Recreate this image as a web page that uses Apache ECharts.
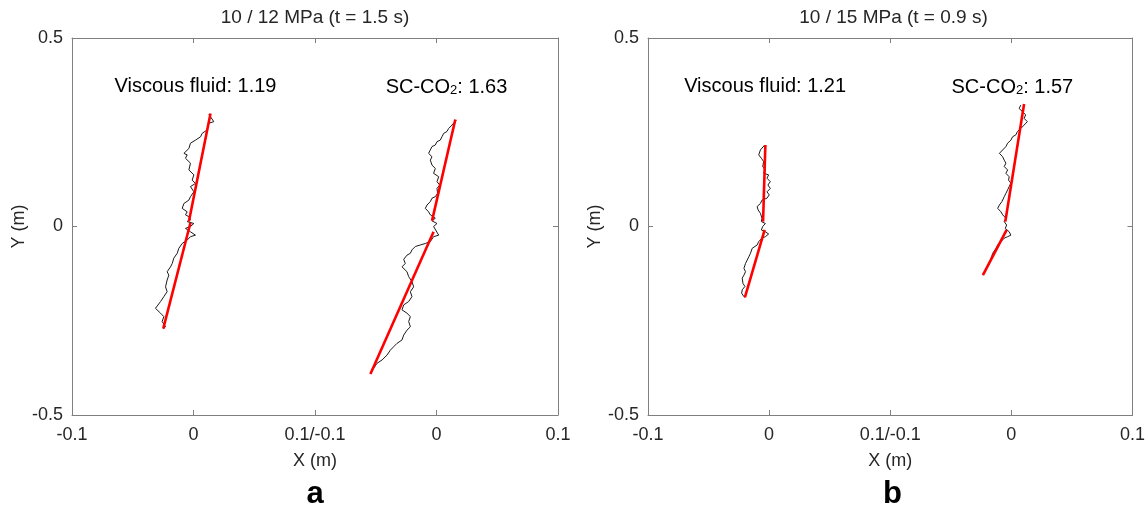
<!DOCTYPE html>
<html><head><meta charset="utf-8">
<script src="https://cdn.jsdelivr.net/npm/echarts@6/dist/echarts.min.js"></script>
<style>html,body{margin:0;padding:0;background:#fff}#c{width:1148px;height:505px}</style>
</head><body><div id="c"></div>
<script>
// ---- tick labels ----
const xTickLabels = ['-0.1', '0', '0.1/-0.1', '0', '0.1'];
const yTickLabels = ['-0.5', '0', '0.5'];
const panelTitles = ['10 / 12 MPa (t = 1.5 s)', '10 / 15 MPa (t = 0.9 s)'];
const panelLetters = ['a', 'b'];
const viscousLabels = ['Viscous fluid: 1.19', 'Viscous fluid: 1.21'];
const co2Values = ['1.63', '1.57'];
// right-hand fracture of each panel is drawn in its own sub-domain shifted by this x offset
const WING_OFFSET = 0.2;

// ---- panel a: viscous fluid (local x, y in m) ----
const aViscousTrace = [[0.0126,0.298],[0.0167,0.278],[0.0126,0.274],[0.0112,0.256],[0.0071,0.247],[0.0058,0.238],[0.0016,0.229],[-0.0025,0.221],[-0.0038,0.207],[-0.0079,0.194],[-0.0052,0.190],[-0.0066,0.181],[-0.0025,0.168],[-0.0038,0.150],[0.0003,0.137],[-0.0011,0.123],[0.0016,0.114],[-0.0025,0.106],[0.0003,0.092],[-0.0025,0.079],[-0.0038,0.070],[-0.0079,0.061],[-0.0093,0.048],[-0.0052,0.039],[-0.0066,0.031],[-0.0038,0.026],[-0.0025,0.019],[-0.0052,0.013],[0.0003,0.008],[-0.0025,0.000],[-0.0066,-0.005],[-0.0025,-0.014],[0.0016,-0.023],[-0.0025,-0.027],[-0.0052,-0.036],[-0.0093,-0.045],[-0.0121,-0.058],[-0.0134,-0.071],[-0.0162,-0.084],[-0.0175,-0.098],[-0.0189,-0.107],[-0.0217,-0.120],[-0.0203,-0.129],[-0.0217,-0.142],[-0.0230,-0.160],[-0.0217,-0.173],[-0.0244,-0.186],[-0.0271,-0.199],[-0.0313,-0.217],[-0.0271,-0.230],[-0.0244,-0.239],[-0.0258,-0.252],[-0.0230,-0.266],[-0.0249,-0.271]];
const aViscousFitUpper = [[0.0140,0.300],[-0.0038,0.013]];
const aViscousFitLower = [[-0.0025,0.010],[-0.0249,-0.271]];

// ---- panel a: SC-CO2 ----
const aCO2Trace = [[0.0163,0.282],[0.0127,0.269],[0.0100,0.260],[0.0086,0.252],[0.0059,0.247],[0.0045,0.238],[0.0031,0.229],[0.0004,0.225],[-0.0010,0.216],[-0.0037,0.212],[-0.0051,0.203],[-0.0065,0.194],[-0.0037,0.185],[-0.0051,0.176],[-0.0037,0.163],[-0.0010,0.154],[-0.0024,0.141],[0.0018,0.132],[0.0004,0.119],[0.0026,0.110],[0.0004,0.101],[0.0009,0.088],[-0.0010,0.079],[-0.0037,0.075],[-0.0051,0.066],[-0.0078,0.057],[-0.0092,0.048],[-0.0065,0.039],[-0.0051,0.031],[-0.0010,0.022],[-0.0037,0.015],[0.0004,0.008],[-0.0024,0.000],[0.0018,-0.023],[-0.0024,-0.027],[-0.0051,-0.040],[-0.0092,-0.045],[-0.0133,-0.049],[-0.0174,-0.053],[-0.0202,-0.062],[-0.0215,-0.071],[-0.0243,-0.076],[-0.0270,-0.087],[-0.0257,-0.098],[-0.0284,-0.107],[-0.0243,-0.120],[-0.0229,-0.133],[-0.0202,-0.146],[-0.0188,-0.160],[-0.0215,-0.173],[-0.0202,-0.186],[-0.0229,-0.199],[-0.0270,-0.208],[-0.0284,-0.221],[-0.0243,-0.230],[-0.0215,-0.239],[-0.0229,-0.252],[-0.0215,-0.266],[-0.0243,-0.275],[-0.0270,-0.288],[-0.0284,-0.301],[-0.0325,-0.310],[-0.0353,-0.319],[-0.0380,-0.328],[-0.0407,-0.341],[-0.0448,-0.354],[-0.0490,-0.363],[-0.0517,-0.376],[-0.0544,-0.391]];
const aCO2FitUpper = [[0.0155,0.284],[-0.0037,0.015]];
const aCO2FitLower = [[-0.0024,-0.014],[-0.0544,-0.391]];

// ---- panel b: viscous fluid ----
const bViscousTrace = [[-0.0037,0.216],[-0.0072,0.203],[-0.0086,0.190],[-0.0064,0.181],[-0.0045,0.172],[-0.0053,0.159],[-0.0031,0.150],[-0.0045,0.141],[-0.0004,0.137],[-0.0018,0.128],[0.0010,0.119],[-0.0010,0.110],[0.0010,0.101],[-0.0018,0.092],[0.0001,0.084],[-0.0018,0.075],[-0.0059,0.070],[-0.0072,0.061],[-0.0099,0.053],[-0.0091,0.044],[-0.0072,0.035],[-0.0059,0.022],[-0.0064,0.013],[-0.0031,0.008],[-0.0053,0.000],[-0.0064,-0.009],[-0.0031,-0.014],[-0.0004,-0.020],[-0.0031,-0.027],[-0.0059,-0.031],[-0.0086,-0.040],[-0.0099,-0.049],[-0.0140,-0.058],[-0.0154,-0.071],[-0.0167,-0.080],[-0.0181,-0.089],[-0.0195,-0.098],[-0.0208,-0.111],[-0.0195,-0.120],[-0.0208,-0.129],[-0.0222,-0.137],[-0.0216,-0.151],[-0.0200,-0.159],[-0.0222,-0.168],[-0.0227,-0.177],[-0.0208,-0.186],[-0.0200,-0.188]];
const bViscousFitUpper = [[-0.0031,0.216],[-0.0050,0.013]];
const bViscousFitLower = [[-0.0037,-0.009],[-0.0200,-0.188]];

// ---- panel b: SC-CO2 ----
const bCO2Trace = [[0.0078,0.322],[0.0064,0.313],[0.0091,0.305],[0.0118,0.296],[0.0105,0.287],[0.0132,0.278],[0.0105,0.269],[0.0078,0.260],[0.0050,0.252],[0.0037,0.243],[0.0010,0.238],[-0.0004,0.229],[-0.0031,0.221],[-0.0045,0.212],[-0.0072,0.203],[-0.0099,0.194],[-0.0072,0.185],[-0.0059,0.176],[-0.0045,0.168],[-0.0059,0.159],[-0.0031,0.150],[-0.0045,0.141],[-0.0018,0.132],[-0.0023,0.123],[-0.0004,0.115],[-0.0018,0.106],[-0.0031,0.097],[-0.0045,0.088],[-0.0059,0.079],[-0.0078,0.066],[-0.0099,0.057],[-0.0113,0.048],[-0.0086,0.039],[-0.0072,0.031],[-0.0045,0.022],[-0.0059,0.013],[-0.0039,0.004],[-0.0050,-0.005],[-0.0018,-0.014],[-0.0004,-0.023],[-0.0031,-0.027],[-0.0059,-0.031],[-0.0086,-0.040],[-0.0113,-0.049],[-0.0127,-0.058],[-0.0154,-0.071],[-0.0167,-0.084],[-0.0186,-0.098],[-0.0208,-0.111],[-0.0222,-0.123],[-0.0235,-0.129]];
const bCO2FitUpper = [[0.0105,0.325],[-0.0050,0.013]];
const bCO2FitLower = [[-0.0039,-0.009],[-0.0235,-0.129]];

const FONT = '"Liberation Sans", Arial, Helvetica, sans-serif';
const TXT = '#262626';
const AX = '#7f7f7f';
const grids = [
  {left: 72, top: 38, width: 486, height: 377},
  {left: 648, top: 38, width: 495, height: 377}
];

const xAxes = [], yAxes = [];
grids.forEach((g, gi) => {
  const xBase = {
    gridIndex: gi, type: 'value', min: -0.1, max: 0.3, interval: 0.1,
    axisLine: {show: true, onZero: false, lineStyle: {color: AX, width: 1}},
    axisTick: {show: true, inside: true, length: 5, lineStyle: {color: AX}},
    splitLine: {show: false}
  };
  xAxes.push(Object.assign({}, xBase, {
    position: 'bottom',
    name: 'X (m)', nameLocation: 'middle', nameGap: 37,
    nameTextStyle: {fontFamily: FONT, fontSize: 18, color: TXT},
    axisLabel: {show: true, margin: 11, fontFamily: FONT, fontSize: 18, color: TXT,
      formatter: v => xTickLabels[Math.round((v + 0.1) / 0.1)]}
  }));
  xAxes.push(Object.assign({}, xBase, {position: 'top', axisLabel: {show: false}}));
  const yBase = {
    gridIndex: gi, type: 'value', min: -0.5, max: 0.5, interval: 0.5,
    axisLine: {show: true, onZero: false, lineStyle: {color: AX, width: 1}},
    axisTick: {show: true, inside: true, length: 5, lineStyle: {color: AX}},
    splitLine: {show: false}
  };
  yAxes.push(Object.assign({}, yBase, {
    position: 'left',
    name: 'Y (m)', nameLocation: 'middle', nameGap: 44, nameRotate: 90,
    nameTextStyle: {fontFamily: FONT, fontSize: 18, color: TXT},
    axisLabel: {show: true, margin: 9, fontFamily: FONT, fontSize: 18, color: TXT,
      formatter: v => yTickLabels[Math.round((v + 0.5) / 0.5)]}
  }));
  yAxes.push(Object.assign({}, yBase, {position: 'right', axisLabel: {show: false}}));
});

function ln(data, gi, offset, color, width) {
  return {
    type: 'line', xAxisIndex: gi * 2, yAxisIndex: gi * 2,
    data: data.map(p => [p[0] + offset, p[1]]),
    symbol: 'none', showSymbol: false, silent: true, animation: false,
    lineStyle: {color: color, width: width}, z: color === '#ff0000' ? 3 : 2
  };
}
const BLACK = '#1a1a1a', RED = '#ff0000';
const series = [
  ln(aViscousTrace, 0, 0, BLACK, 1),
  ln(aCO2Trace, 0, WING_OFFSET, BLACK, 1),
  ln(bViscousTrace, 1, 0, BLACK, 1),
  ln(bCO2Trace, 1, WING_OFFSET, BLACK, 1),
  ln(aViscousFitUpper, 0, 0, RED, 2.6), ln(aViscousFitLower, 0, 0, RED, 2.6),
  ln(aCO2FitUpper, 0, WING_OFFSET, RED, 2.6), ln(aCO2FitLower, 0, WING_OFFSET, RED, 2.6),
  ln(bViscousFitUpper, 1, 0, RED, 2.6), ln(bViscousFitLower, 1, 0, RED, 2.6),
  ln(bCO2FitUpper, 1, WING_OFFSET, RED, 2.6), ln(bCO2FitLower, 1, WING_OFFSET, RED, 2.6)
];

const chart = echarts.init(document.getElementById('c'), null, {renderer: 'canvas'});
chart.setOption({
  backgroundColor: '#fff', animation: false,
  grid: grids.map(g => Object.assign({show: false}, g)),
  xAxis: xAxes, yAxis: yAxes, series: series
});

// text overlays, positioned from the axis scales
function px(gi, x, y) { return chart.convertToPixel({gridIndex: gi}, [x, y]); }
const graphics = [];
grids.forEach((g, gi) => {
  const cx = g.left + g.width / 2;
  graphics.push({type: 'text', x: cx - (gi ? 2 : 0), y: 18, style: {text: panelTitles[gi], fontFamily: FONT, fontSize: 19, fill: TXT, textAlign: 'center', textVerticalAlign: 'middle'}});
  graphics.push({type: 'text', x: cx - (gi ? 3 : 0), y: 494, style: {text: panelLetters[gi], fontFamily: FONT, fontSize: 31, fontWeight: 'bold', fill: '#000', textAlign: 'center', textVerticalAlign: 'middle'}});
  const p1 = px(gi, 0, 0.375);
  const p2 = px(gi, WING_OFFSET, 0.375);
  graphics.push({type: 'text', x: p1[0] + (gi ? -4 : 2), y: p1[1] + 1, style: {text: viscousLabels[gi], fontFamily: FONT, fontSize: 20, fill: '#000', textAlign: 'center', textVerticalAlign: 'middle'}});
  graphics.push({type: 'text', x: p2[0] + (gi ? 1 : 10), y: p2[1], style: {
    text: '{n|SC-CO}{s|2}{n|: ' + co2Values[gi] + '}', textAlign: 'center', textVerticalAlign: 'middle',
    rich: {
      n: {fontFamily: FONT, fontSize: 20, fill: '#000', color: '#000', verticalAlign: 'bottom', lineHeight: 24},
      s: {fontFamily: FONT, fontSize: 13, fill: '#000', color: '#000', verticalAlign: 'bottom', lineHeight: 20}
    }}});
});
chart.setOption({graphic: graphics});
</script></body></html>
